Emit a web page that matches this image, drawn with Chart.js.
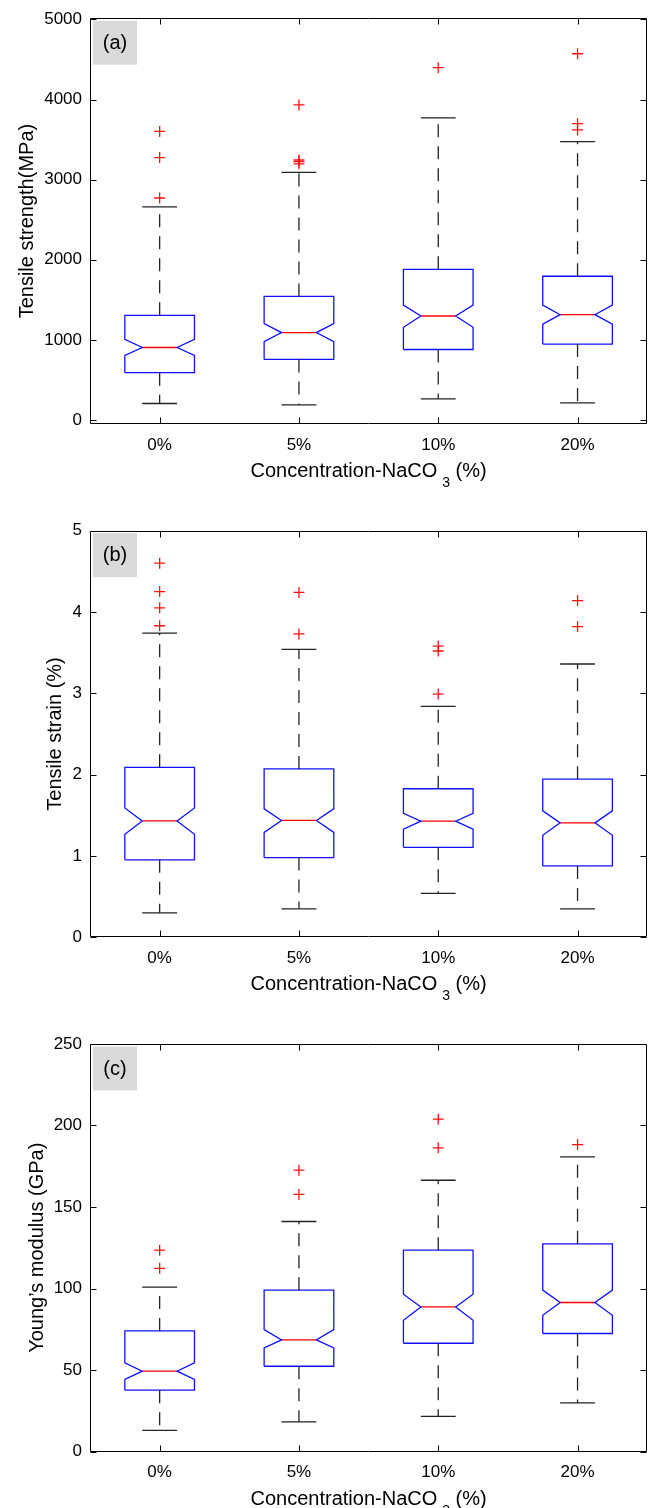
<!DOCTYPE html>
<html>
<head>
<meta charset="utf-8">
<script src="https://cdn.jsdelivr.net/npm/chart.js@4.4.1/dist/chart.umd.min.js"></script>
<style>
  html, body { margin: 0; padding: 0; background: #fff; }
  .wrap { position: relative; width: 654px; height: 1508px; }
  canvas { position: absolute; left: 0; }
</style>
</head>
<body>
<div class="wrap">
  <canvas id="panel-a" width="654" height="495" style="top:0"></canvas>
  <canvas id="panel-b" width="654" height="505" style="top:495px"></canvas>
  <canvas id="panel-c" width="654" height="508" style="top:1000px"></canvas>
</div>
<script>
// ─── DATA ─────────────────────────────────────────────────────────────────
const categories = ['0%', '5%', '10%', '20%'];

// (a) tensile strength, MPa
const strengthTicks   = [0, 1000, 2000, 3000, 4000, 5000];
const strengthLo      = [206, 189, 264, 214];
const strengthQ1      = [590, 756, 880, 947];
const strengthNotchLo = [806, 979, 1157, 1195];
const strengthMed     = [905, 1091, 1298, 1315];
const strengthNotchHi = [1008, 1203, 1435, 1435];
const strengthQ3      = [1306, 1542, 1881, 1794];
const strengthHi      = [2659, 3090, 3772, 3474];
const strengthOut     = [[3602, 3275, 2771], [3933, 3245, 3226, 3197], [4397], [4571, 3698, 3620]];

// (b) tensile strain, %
const strainTicks   = [0, 1, 2, 3, 4, 5];
const strainLo      = [0.30, 0.35, 0.54, 0.35];
const strainQ1      = [0.953, 0.98, 1.106, 0.877];
const strainNotchLo = [1.267, 1.29, 1.33, 1.254];
const strainMed     = [1.431, 1.437, 1.428, 1.407];
const strainNotchHi = [1.59, 1.58, 1.525, 1.555];
const strainQ3      = [2.09, 2.07, 1.826, 1.944];
const strainHi      = [3.74, 3.54, 2.84, 3.36];
const strainOut     = [[4.60, 4.25, 4.05, 3.83], [4.24, 3.73], [3.58, 3.52, 2.99], [4.14, 3.82]];

// (c) Young's modulus, GPa
const modulusTicks   = [0, 50, 100, 150, 200, 250];
const modulusLo      = [12.9, 18.2, 21.5, 29.8];
const modulusQ1      = [37.6, 52.3, 66.4, 72.4];
const modulusNotchLo = [44.2, 63.6, 80.5, 83.6];
const modulusMed     = [49.3, 68.5, 88.7, 91.4];
const modulusNotchHi = [54.4, 74.8, 96.5, 99.0];
const modulusQ3      = [74.0, 99.0, 123.5, 127.4];
const modulusHi      = [100.8, 141.1, 166.4, 180.7];
const modulusOut     = [[123.5, 112.4], [172.6, 157.7], [203.9, 186.3], [188.3]];

// ─── STYLE ────────────────────────────────────────────────────────────────
const FONT   = '"Liberation Sans", Arial, Helvetica, sans-serif';
const HALF_W = 0.25;   // half box width, in category units
const NOTCH  = 0.125;  // half width at the notch waist / whisker caps
const TICK   = 6;

Chart.defaults.font.family = FONT;
Chart.defaults.color = '#000';

// ─── box plot geometry as line datasets (null y breaks the path) ─────────
function boxSets(s) {
  const outline = [], median = [], whisk = [], caps = [], outliers = [];
  categories.forEach((_, i) => {
    const x = i + 1;
    outline.push(
      { x: x - HALF_W, y: s.q1[i] }, { x: x - HALF_W, y: s.nlo[i] },
      { x: x - NOTCH,  y: s.med[i] }, { x: x - HALF_W, y: s.nhi[i] },
      { x: x - HALF_W, y: s.q3[i] }, { x: x + HALF_W, y: s.q3[i] },
      { x: x + HALF_W, y: s.nhi[i] }, { x: x + NOTCH,  y: s.med[i] },
      { x: x + HALF_W, y: s.nlo[i] }, { x: x + HALF_W, y: s.q1[i] },
      { x: x - HALF_W, y: s.q1[i] }, { x, y: null });
    median.push({ x: x - NOTCH, y: s.med[i] }, { x: x + NOTCH, y: s.med[i] }, { x, y: null });
    whisk.push({ x, y: s.q3[i] }, { x, y: s.hi[i] }, { x, y: null },
               { x, y: s.q1[i] }, { x, y: s.lo[i] }, { x, y: null });
    caps.push({ x: x - NOTCH, y: s.hi[i] }, { x: x + NOTCH, y: s.hi[i] }, { x, y: null },
              { x: x - NOTCH, y: s.lo[i] }, { x: x + NOTCH, y: s.lo[i] }, { x, y: null });
    s.out[i].forEach(v => outliers.push({ x, y: v }));
  });
  const line = { showLine: true, pointRadius: 0, borderWidth: 1.3, spanGaps: false };
  return [
    { ...line, data: whisk, borderColor: '#222', borderDash: [13, 9] },
    { ...line, data: caps, borderColor: '#222' },
    { ...line, data: outline, borderColor: '#1010ff' },
    { ...line, data: median, borderColor: '#ff0000' },
    { data: outliers, showLine: false, pointStyle: 'cross', pointRadius: 5.5,
      borderColor: '#ff1010', borderWidth: 1.3, backgroundColor: '#ff0000' },
  ];
}

// ─── frame, inward ticks, panel tag, x title with subscript ──────────────
const framePlugin = {
  id: 'frame',
  afterDraw(chart, args, o) {
    const { ctx, chartArea: a, scales: { x, y } } = chart;
    const L = Math.round(a.left) + 0.5, R = Math.round(a.right) - 0.5;
    const T = Math.round(a.top) + 0.5,  B = Math.round(a.bottom) - 0.5;
    ctx.save();
    ctx.strokeStyle = '#000';
    ctx.lineWidth = 1;
    ctx.setLineDash([]);
    ctx.beginPath();
    ctx.rect(L, T, R - L, B - T);
    y.ticks.forEach(t => {
      const py = Math.round(y.getPixelForValue(t.value)) + 0.5;
      ctx.moveTo(L, py); ctx.lineTo(L + TICK, py);
      ctx.moveTo(R, py); ctx.lineTo(R - TICK, py);
    });
    x.ticks.forEach(t => {
      const px = Math.round(x.getPixelForValue(t.value)) + 0.5;
      ctx.moveTo(px, B); ctx.lineTo(px, B - TICK);
      ctx.moveTo(px, T); ctx.lineTo(px, T + TICK);
    });
    ctx.stroke();

    // panel tag in grey box
    ctx.fillStyle = '#d9d9d9';
    ctx.fillRect(a.left + 3, a.top + 2.5, 44, 44);
    ctx.fillStyle = '#000';
    ctx.font = '20px ' + FONT;
    ctx.textAlign = 'center';
    ctx.textBaseline = 'middle';
    ctx.fillText(o.tag, a.left + 25, a.top + 25);

    // x axis title: Concentration-NaCO3 (%) with subscripted 3
    const main = 'Concentration-NaCO', sub = '3', rest = ' (%)';
    const bigFont = '20px ' + FONT, subFont = '14px ' + FONT;
    ctx.font = bigFont;
    const w1 = ctx.measureText(main).width, w3 = ctx.measureText(rest).width;
    ctx.font = subFont;
    const w2 = ctx.measureText(sub).width;
    const gap = 5;
    const total = w1 + gap + w2 + w3;
    let tx = (a.left + a.right) / 2 - total / 2;
    const base = a.bottom + 53;
    ctx.textAlign = 'left';
    ctx.textBaseline = 'alphabetic';
    ctx.font = bigFont;
    ctx.fillText(main, tx, base);
    tx += w1 + gap;
    ctx.font = subFont;
    ctx.fillText(sub, tx, base + 10);
    tx += w2;
    ctx.font = bigFont;
    ctx.fillText(rest, tx, base);
    ctx.restore();
  }
};

function makePanel(id, s) {
  const canvas = document.getElementById(id);
  const H = canvas.height;
  return new Chart(canvas, {
    type: 'scatter',
    data: { datasets: boxSets(s) },
    plugins: [framePlugin],
    options: {
      responsive: false,
      animation: false,
      devicePixelRatio: 1,
      layout: { padding: { top: s.top, right: 5, left: 0, bottom: 0 } },
      plugins: {
        legend: { display: false },
        tooltip: { enabled: false },
        frame: { tag: s.tag },
      },
      scales: {
        x: {
          type: 'linear', min: 0.5, max: 4.5,
          afterBuildTicks: sc => { sc.ticks = categories.map((_, i) => ({ value: i + 1 })); },
          afterFit: sc => { sc.height = H - s.bottom; },
          ticks: { callback: v => categories[v - 1], font: { size: 17 }, padding: 11, maxRotation: 0 },
          grid: { display: false, drawTicks: false },
          border: { display: false },
        },
        y: {
          min: s.min, max: s.max,
          afterBuildTicks: sc => { sc.ticks = s.ticks.map(v => ({ value: v })); },
          afterFit: sc => { sc.width = 90; },
          ticks: { callback: v => String(v), font: { size: 17 }, padding: 8 },
          grid: { display: false, drawTicks: false },
          border: { display: false },
          title: { display: true, text: s.yTitle, font: { size: 20 }, padding: { top: s.yTitlePad, bottom: 0 } },
        },
      },
    },
  });
}

makePanel('panel-a', {
  tag: '(a)', top: 16, bottom: 424, min: -50, max: 5015, ticks: strengthTicks,
  yTitle: 'Tensile strength(MPa)', yTitlePad: 15.5,
  lo: strengthLo, q1: strengthQ1, nlo: strengthNotchLo, med: strengthMed,
  nhi: strengthNotchHi, q3: strengthQ3, hi: strengthHi, out: strengthOut,
});

makePanel('panel-b', {
  tag: '(b)', top: 35.6, bottom: 442.3, min: 0, max: 5, ticks: strainTicks,
  yTitle: 'Tensile strain (%)', yTitlePad: 43,
  lo: strainLo, q1: strainQ1, nlo: strainNotchLo, med: strainMed,
  nhi: strainNotchHi, q3: strainQ3, hi: strainHi, out: strainOut,
});

makePanel('panel-c', {
  tag: '(c)', top: 44, bottom: 451.5, min: 0, max: 250, ticks: modulusTicks,
  yTitle: 'Young\u2019s modulus (GPa)', yTitlePad: 25.5,
  lo: modulusLo, q1: modulusQ1, nlo: modulusNotchLo, med: modulusMed,
  nhi: modulusNotchHi, q3: modulusQ3, hi: modulusHi, out: modulusOut,
});
</script>
</body>
</html>
